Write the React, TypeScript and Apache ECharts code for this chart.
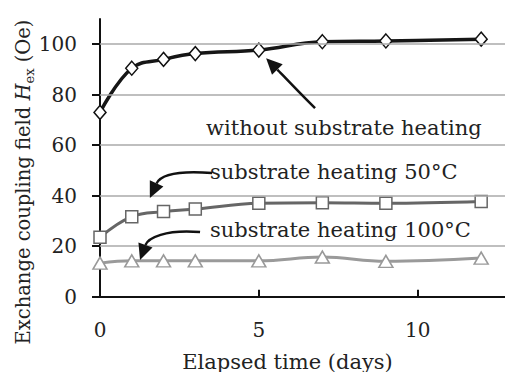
import React, { useEffect, useRef } from "react";
import * as echarts from "echarts";

const days = [0, 1, 2, 3, 5, 7, 9, 12];
const withoutHeating = [73, 90.5, 94, 96.3, 97.7, 101, 101.3, 102];
const heating50 = [23.5, 31.7, 33.7, 34.7, 37, 37.2, 37, 37.7];
const heating100 = [13.3, 14.2, 14.2, 14.2, 14.2, 15.7, 14, 15.3];
const yTicks = [0, 20, 40, 60, 80, 100];
const xTicks = [0, 5, 10];
const gridValues = [20, 40, 60, 80, 100];

const annotationTexts = [
  { text: "without substrate heating", at: [3.34, 66.8] },
  { text: "substrate heating 50°C", at: [3.46, 49.3] },
  { text: "substrate heating 100°C", at: [3.46, 26.3] },
];
// arrows: [start, cp1, cp2, tip] in data coords
const arrows = [
  [[6.77, 74.7], [6.3, 80.5], [5.7, 88.5], [5.23, 94.5]],
  [[3.53, 49.0], [2.27, 50.2], [1.89, 47.8], [1.57, 39.1]],
  [[3.15, 25.6], [2.05, 26.8], [1.51, 23.2], [1.26, 14.5]],
];

const FONT = "DejaVu Serif";

export default function App() {
  const ref = useRef<HTMLDivElement>(null);
  useEffect(() => {
    const chart = echarts.init(ref.current!, undefined, { renderer: "svg" });
    const mk = (vals: number[]) => days.map((d, i) => [d, vals[i]]);
    chart.setOption({
      animation: false,
      grid: { left: 100, right: 0, top: 19, bottom: 75.3 },
      xAxis: {
        type: "value",
        min: 0,
        max: 12.75,
        interval: 5,
        splitLine: { show: false },
        axisLine: { lineStyle: { color: "#111", width: 2 } },
        axisTick: { inside: true, length: 7, customValues: xTicks, lineStyle: { color: "#111", width: 2 } },
        axisLabel: { customValues: xTicks, margin: 23, fontFamily: FONT, fontSize: 20, color: "#222" },
      },
      yAxis: {
        type: "value",
        min: 0,
        max: 110,
        interval: 20,
        splitLine: { show: false },
        axisLine: { show: true, lineStyle: { color: "#111", width: 2 } },
        axisTick: { show: true, inside: false, length: 8, customValues: yTicks, lineStyle: { color: "#111", width: 2 } },
        axisLabel: { customValues: yTicks, margin: 23, fontFamily: FONT, fontSize: 20, color: "#222" },
      },
      series: [
        {
          type: "line",
          data: [],
          z: 1,
          silent: true,
          markLine: {
            silent: true,
            symbol: ["none", "none"],
            label: { show: false },
            lineStyle: { color: "#aaa", width: 1.5, type: "solid" },
            data: gridValues.map((v) => ({ yAxis: v })),
          },
        },
        {
          type: "line",
          data: mk(withoutHeating),
          smooth: 0.4,
          z: 4,
          symbol: "diamond",
          symbolSize: [12, 14],
          lineStyle: { color: "#161616", width: 3.5 },
          itemStyle: { color: "#fff", borderColor: "#111", borderWidth: 1.5 },
        },
        {
          type: "line",
          data: mk(heating50),
          smooth: 0.4,
          z: 3,
          symbol: "rect",
          symbolSize: 12,
          lineStyle: { color: "#666", width: 3 },
          itemStyle: { color: "#fff", borderColor: "#666", borderWidth: 1.5 },
        },
        {
          type: "line",
          data: mk(heating100),
          smooth: 0.4,
          z: 2,
          symbol: "triangle",
          symbolSize: [14, 12],
          lineStyle: { color: "#9a9a9a", width: 3 },
          itemStyle: { color: "#fff", borderColor: "#999", borderWidth: 1.5 },
        },
      ],
    });

    const px = (p: number[]) => chart.convertToPixel({ xAxisIndex: 0, yAxisIndex: 0 }, p) as number[];
    const graphics: any[] = [];
    annotationTexts.forEach((a) => {
      const [x, y] = px(a.at);
      graphics.push({
        type: "text",
        x,
        y,
        z: 10,
        style: { text: a.text, fontFamily: FONT, fontSize: 21, fill: "#222", align: "left", verticalAlign: "middle" },
      });
    });
    arrows.forEach((arr) => {
      const p = arr.map(px);
      const [s, c1, c2, t] = p;
      let dx = t[0] - c2[0];
      let dy = t[1] - c2[1];
      const len = Math.hypot(dx, dy) || 1;
      dx /= len;
      dy /= len;
      const hl = 16;
      const hw = 7.5;
      const bx = t[0] - dx * hl;
      const by = t[1] - dy * hl;
      graphics.push({
        type: "bezierCurve",
        z: 10,
        shape: { x1: s[0], y1: s[1], cpx1: c1[0], cpy1: c1[1], cpx2: c2[0], cpy2: c2[1], x2: bx, y2: by },
        style: { stroke: "#111", lineWidth: 2.5, fill: "none" },
      });
      graphics.push({
        type: "polygon",
        z: 10,
        shape: {
          points: [
            [t[0], t[1]],
            [bx - dy * hw, by + dx * hw],
            [bx + dy * hw, by - dx * hw],
          ],
        },
        style: { fill: "#111" },
      });
    });
    graphics.push({
      type: "text",
      x: 23,
      y: 182,
      rotation: Math.PI / 2,
      z: 10,
      style: {
        text: "{a|Exchange coupling field }{i|H}{s|ex}{a| (Oe)}",
        align: "center",
        verticalAlign: "middle",
        fill: "#222",
        rich: {
          a: { fontFamily: FONT, fontSize: 19.5, lineHeight: 26, fill: "#222" },
          i: { fontFamily: FONT, fontSize: 19.5, fontStyle: "italic", lineHeight: 26, fill: "#222" },
          s: { fontFamily: FONT, fontSize: 13, lineHeight: 26, verticalAlign: "bottom", fill: "#222" },
        },
      },
    });
    graphics.push({
      type: "text",
      x: 287.5,
      y: 361.5,
      z: 10,
      style: { text: "Elapsed time (days)", fontFamily: FONT, fontSize: 21, fill: "#222", align: "center", verticalAlign: "middle" },
    });
    chart.setOption({ graphic: graphics });
    return () => chart.dispose();
  }, []);
  return <div ref={ref} style={{ width: 505, height: 372, position: "absolute", left: 0, top: 0 }} />;
}
